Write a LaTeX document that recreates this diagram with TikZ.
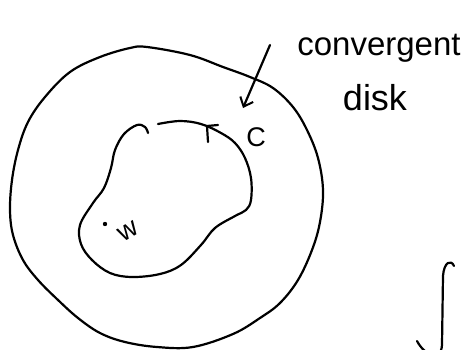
\documentclass[tikz,border=0pt]{standalone}
\usepackage{fontspec}
\setmainfont{Liberation Sans}
\usetikzlibrary{arrows.meta}
\tikzset{
  curve/.style={draw=black, line width=2.2pt, line cap=round, line join=round},
  hand/.style={inner sep=0pt, font=\fontsize{33}{36}\selectfont},
  small/.style={inner sep=0pt, font=\fontsize{27}{30}\selectfont},
  pointer/.style={curve, -{Straight Barb[length=8pt, width=14pt, line width=2pt]}},
}
\begin{document}
\begin{tikzpicture}[x=1pt, y=-1pt]
  \useasboundingbox (0,0) rectangle (475,349);
  % outer disk
  \draw[curve] plot[smooth cycle, tension=0.6] coordinates {
    (147,47) (190,55) (223,67) (250,77) (273,88) (293,107) (307,130)
    (318,158) (323,190) (320,222) (312,250) (298,280) (280,303) (260,318)
    (233,334) (193,347) (157,347) (125,342) (100,333) (78,318) (58,300)
    (38,280) (23,260) (13,235) (10,210) (12,180) (18,150) (28,122)
    (45,97) (70,72) (100,57) (130,48)};
  % contour C, open at the top
  \draw[curve] plot[smooth, tension=0.6] coordinates {
    (158,124) (180,121) (201,124) (221,133) (235,143) (245,158) (251,178)
    (251,200) (246,210) (235,216) (215,228) (201,245) (181,265) (160,274)
    (132,277) (110,273) (92,260) (81,244) (80,225) (93,203) (104,188)
    (111,168) (115,150) (124,134) (137,125) (145,127) (148,133)};
  % direction mark on C
  \coordinate (mark) at (207,126);
  \draw[curve] (mark) ++(11,-1) -- (mark) -- ++(1,16);
  \node[small] (c) at (256,137) {C};
  % the point w
  \coordinate (wpt) at (105,224);
  \fill (wpt) circle (2.2);
  \node[small, rotate=30] (w) at (128,231) {w};
  % label and pointer
  \node[hand, anchor=base] (conv) at (379,55) {convergent};
  \node[hand, anchor=base, font=\fontsize{36}{40}\selectfont] (disk) at (375,110) {disk};
  \coordinate (tail) at (270,45);
  \coordinate (tip) at (243,108);
  \draw[pointer] (tail) -- (tip);
  % integral sign, cut by the edge
  \coordinate (itop) at (454,266);
  \draw[curve] (itop) .. controls (451,259) and (444,262) .. (443,276)
    -- (442,345) .. controls (441,362) and (425,356) .. (417,341);
\end{tikzpicture}
\end{document}
